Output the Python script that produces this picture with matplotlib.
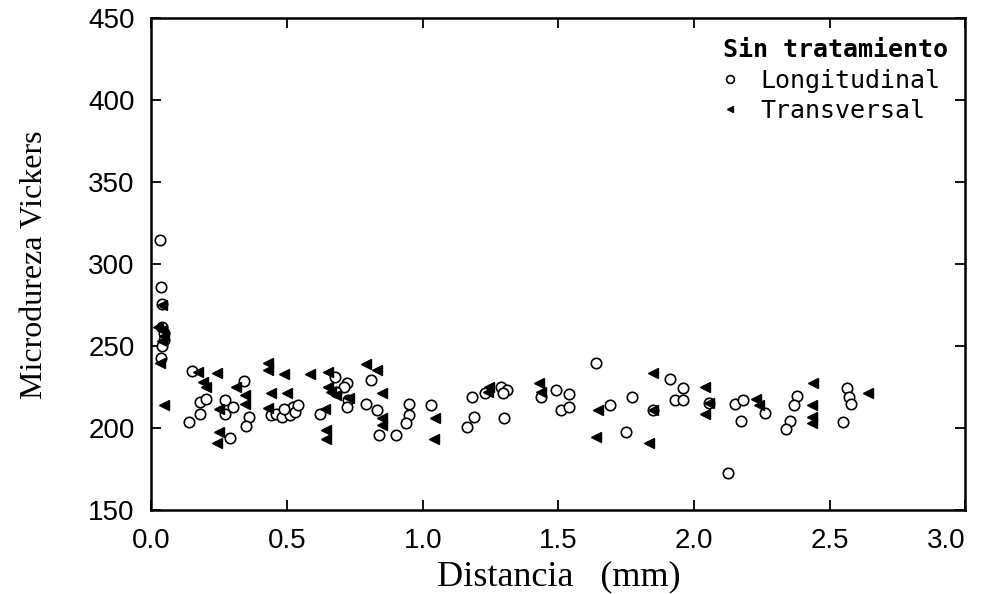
import matplotlib
matplotlib.use("Agg")
import matplotlib.pyplot as plt

# Longitudinal (open circles): distance (mm), Vickers microhardness
long_x = [0.03, 0.035, 0.04, 0.04, 0.045, 0.045, 0.04, 0.035,
          0.14, 0.15, 0.18, 0.18, 0.20, 0.27, 0.27, 0.30, 0.29, 0.34, 0.36, 0.35, 0.44,
          0.46, 0.48, 0.50, 0.51, 0.52, 0.53, 0.54, 0.49,
          0.62, 0.676, 0.72, 0.71, 0.68, 0.725, 0.72, 0.79, 0.81, 0.83, 0.84, 0.90,
          0.95, 0.95, 0.94, 1.03,
          1.18, 1.19, 1.165, 1.23, 1.29, 1.31, 1.295, 1.30, 1.435, 1.49, 1.54, 1.51,
          1.54, 1.64, 1.69, 1.77, 1.75,
          1.85, 1.91, 1.96, 1.93, 1.96, 2.055, 2.125, 2.15, 2.18, 2.175, 2.26,
          2.38, 2.37, 2.355, 2.34, 2.565, 2.57, 2.58, 2.55]
long_hv = [315, 286, 276, 262, 258, 254, 250, 243,
           204, 235, 209, 216, 218, 217, 209, 213, 194, 229, 207, 201.5, 208,
           209, 207, 211, 208, 213, 210, 214, 212,
           209, 231.5, 227.5, 225.4, 222, 217, 213, 215, 229.5, 211, 196, 196,
           215, 208, 203, 214,
           219, 207, 201, 221.8, 225.4, 223.4, 221.4, 206, 219, 223.4, 221, 211,
           213, 240, 214, 219, 198,
           211, 230, 224.4, 217.3, 217.3, 215.7, 173, 215, 217.3, 204.6, 209.6,
           219.8, 214, 204.6, 199.7, 224.4, 219.3, 214.9, 204]

# Transversal (filled left triangles)
trans_x = [0.04, 0.025, 0.04, 0.045, 0.04, 0.03, 0.045,
           0.17, 0.19, 0.20, 0.24, 0.25, 0.25, 0.24, 0.31, 0.345, 0.345,
           0.43, 0.43, 0.44, 0.43, 0.49, 0.50, 0.585,
           0.65, 0.65, 0.66, 0.68, 0.64, 0.645, 0.645, 0.73, 0.79, 0.83, 0.85, 0.85, 0.85,
           1.045, 1.04, 1.245, 1.24, 1.43, 1.435, 1.645, 1.64,
           1.85, 1.85, 1.835, 2.04, 2.055, 2.04, 2.23, 2.24,
           2.44, 2.435, 2.435, 2.435, 2.64]
trans_hv = [275, 262, 260, 256, 253, 240, 214,
            234.5, 228, 225, 234, 212, 198, 191, 225, 220, 215,
            239.6, 235.6, 221.4, 212.5, 233, 221.8, 233,
            234.5, 225, 222, 220, 212, 199, 193.4, 218.4, 239, 235.6, 221.4, 206, 202,
            206, 193.4, 225.4, 222, 227.5, 222.4, 211, 194.6,
            234, 211, 191, 225, 215.7, 209, 217.7, 214,
            227.5, 214, 206.6, 203, 221.4]

x_ticks = [0.0, 0.5, 1.0, 1.5, 2.0, 2.5, 3.0]
y_ticks = [150, 200, 250, 300, 350, 400, 450]

fig = plt.figure(figsize=(9.9, 5.94), dpi=100)
ax = fig.add_axes([0.153, 0.141, 0.822, 0.828])

ax.plot(long_x, long_hv, linestyle="none", marker="o", markersize=7.5,
        markerfacecolor="white", markeredgecolor="black", markeredgewidth=1.2,
        label="Longitudinal")
ax.plot(trans_x, trans_hv, linestyle="none", marker="<", markersize=6.5,
        color="black", label="Transversal")

ax.set_xlim(0, 3.0)
ax.set_ylim(150, 450)
ax.set_xticks(x_ticks)
ax.set_yticks(y_ticks)
ax.set_xticklabels([f"{t:.1f}" for t in x_ticks])
ax.set_yticklabels([str(t) for t in y_ticks])

for lab in ax.get_xticklabels() + ax.get_yticklabels():
    lab.set_fontfamily(["Liberation Sans", "DejaVu Sans"])
    lab.set_fontsize(20)
# last x label sits inside the page edge, as in the scan
ax.get_xticklabels()[-1].set_horizontalalignment("right")

ax.tick_params(direction="in", length=7, width=1.3, top=True, right=True,
               colors="black")
ax.tick_params(axis="x", pad=13)
ax.tick_params(axis="y", pad=12)
for s in ax.spines.values():
    s.set_linewidth(1.8)

ax.set_xlabel("Distancia   (mm)", family=["Liberation Serif"], fontsize=26,
              labelpad=4)
ax.set_ylabel("Microdureza Vickers", family=["Liberation Serif"], fontsize=23,
              labelpad=28)

leg = ax.legend(title="Sin tratamiento", loc="upper right",
                bbox_to_anchor=(0.997, 0.99), frameon=False,
                prop={"family": "DejaVu Sans Mono", "size": 18},
                title_fontproperties={"family": "DejaVu Sans Mono", "size": 18,
                                      "weight": "bold"},
                alignment="left", handlelength=0.6, handletextpad=0.9,
                labelspacing=0.25, borderaxespad=0.2, markerscale=0.75)

fig.savefig("out.png", dpi=100)
